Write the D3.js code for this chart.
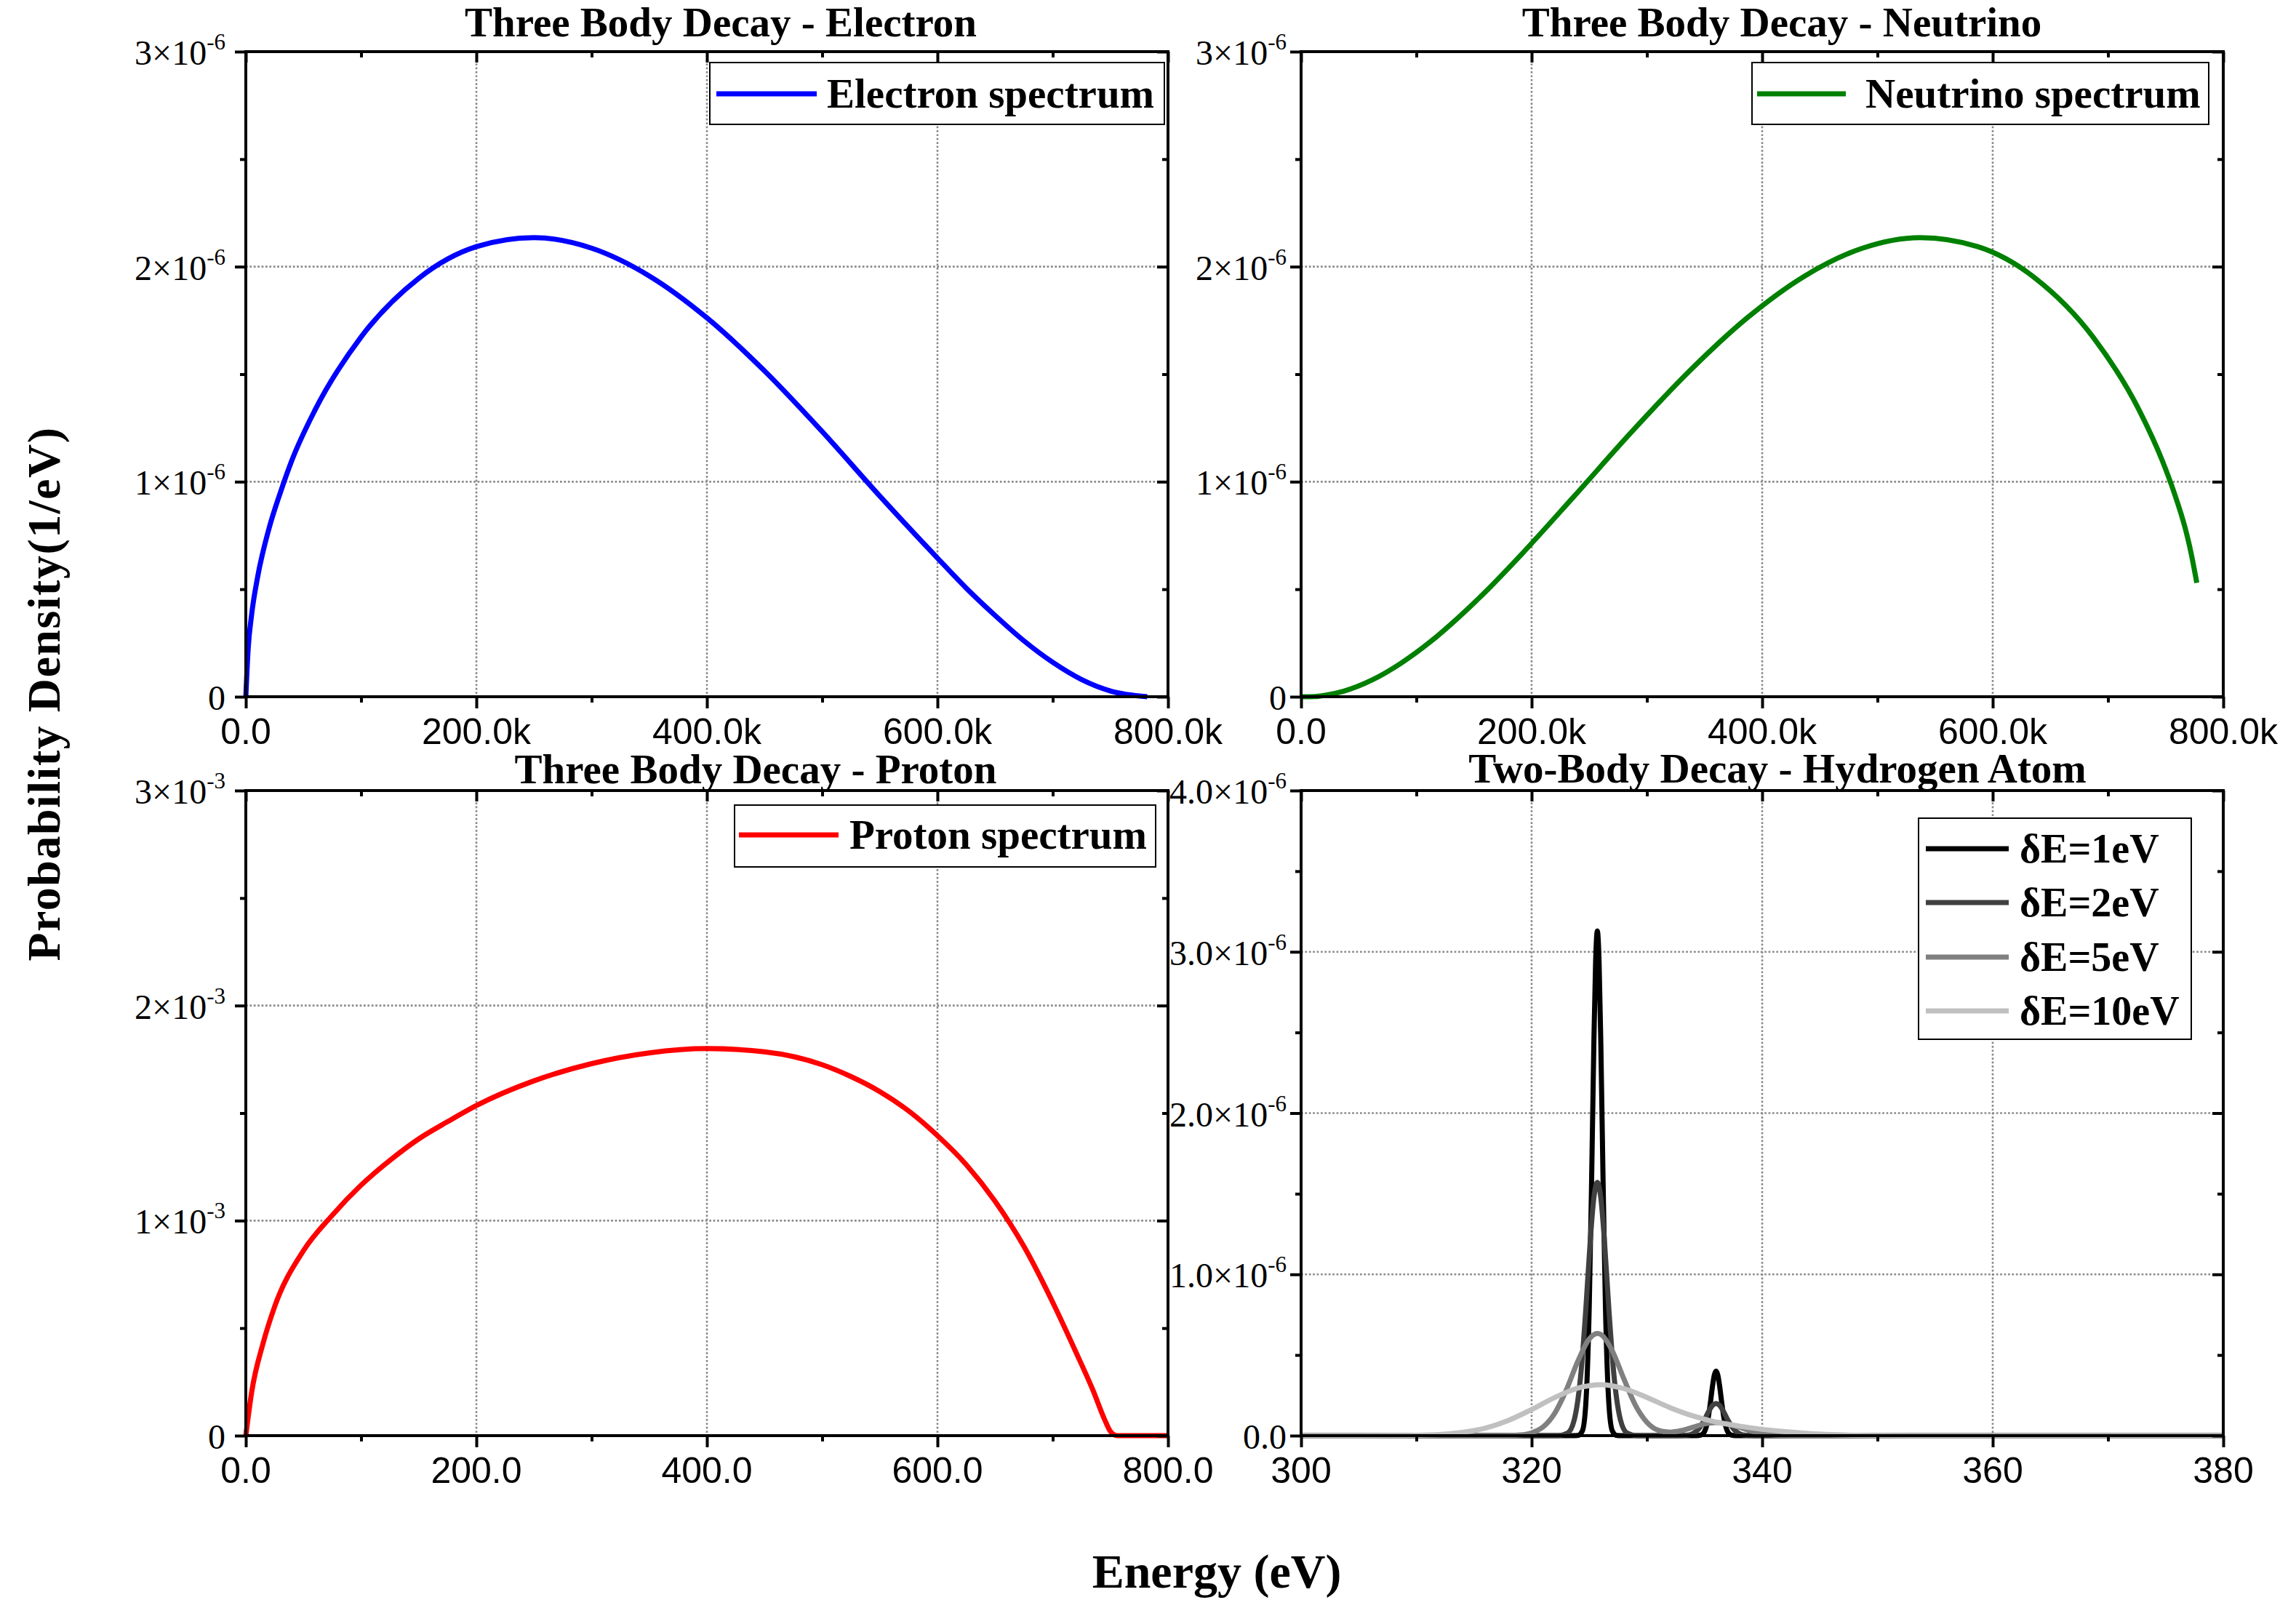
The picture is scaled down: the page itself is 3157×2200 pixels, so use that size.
<!DOCTYPE html>
<html>
<head>
<meta charset="utf-8">
<script src="https://cdn.jsdelivr.net/npm/d3@7"></script>
<style>
  body { margin: 0; background: #fff; }
  svg { display: block; }
  .serif { font-family: "Liberation Serif", "Times New Roman", serif; }
  .sans  { font-family: "Liberation Sans", Arial, sans-serif; }
</style>
</head>
<body>
<svg id="chart" width="3157" height="2200"></svg>
<script>
// ---- data ----
const electronE = [0, 2e3, 5e3, 10e3, 20e3, 30e3, 40e3, 60e3, 100e3, 150e3, 200e3, 250e3, 300e3, 350e3, 400e3, 450e3,
  500e3, 550e3, 600e3, 625e3, 650e3, 675e3, 700e3, 725e3, 750e3, 782e3]
const electronP = [0, 0.22e-6, 0.38e-6, 0.55e-6, 0.78e-6, 0.95e-6, 1.10e-6, 1.333e-6, 1.673e-6, 1.946e-6, 2.093e-6,
  2.135e-6, 2.086e-6, 1.957e-6, 1.762e-6, 1.515e-6, 1.233e-6, 0.933e-6, 0.645e-6, 0.505e-6, 0.378e-6, 0.26e-6,
  0.16e-6, 0.08e-6, 0.027e-6, 0]

const neutrinoE = [0, 12e3, 20e3, 37e3, 62e3, 87e3, 112e3, 137e3, 162e3, 187e3, 237e3, 287e3, 337e3, 387e3, 437e3,
  487e3, 537e3, 587e3, 637e3, 687e3, 727e3, 747e3, 757e3, 767e3, 772e3, 777e3]
const neutrinoP = [0, 0.001e-6, 0.006e-6, 0.026e-6, 0.079e-6, 0.157e-6, 0.255e-6, 0.371e-6, 0.499e-6, 0.638e-6,
  0.933e-6, 1.233e-6, 1.515e-6, 1.762e-6, 1.957e-6, 2.086e-6, 2.135e-6, 2.093e-6, 1.946e-6, 1.673e-6, 1.333e-6,
  1.099e-6, 0.955e-6, 0.783e-6, 0.67e-6, 0.53e-6]

const protonE = [0, 5, 15, 25, 50, 75, 100, 125, 150, 175, 200, 250, 300, 350, 400, 450, 500, 525, 550, 575, 600,
  625, 650, 675, 700, 720, 735, 745, 750, 756, 800]
const protonP = [0, 0.20e-3, 0.43e-3, 0.60e-3, 0.86e-3, 1.025e-3, 1.165e-3, 1.28e-3, 1.38e-3, 1.46e-3, 1.535e-3,
  1.65e-3, 1.73e-3, 1.78e-3, 1.80e-3, 1.785e-3, 1.725e-3, 1.67e-3, 1.60e-3, 1.51e-3, 1.395e-3, 1.26e-3, 1.09e-3,
  0.88e-3, 0.62e-3, 0.39e-3, 0.21e-3, 0.075e-3, 0.02e-3, 0, 0]

const h1E = [300, 320, 323.5, 324.0, 324.4, 324.7, 325.0, 325.2, 325.4, 325.55, 325.7, 325.85, 326.0, 326.2, 326.4, 326.7,
  327.0, 327.4, 327.9, 330, 334.3, 334.7, 335.0, 335.3, 335.5, 335.7, 335.85, 336.0, 336.15, 336.3, 336.5, 336.7, 337.0,
  337.3, 337.7, 340, 380]
const h1P = [0, 0, 0, 0.001e-6, 0.029e-6, 0.197e-6, 0.81e-6, 1.57e-6, 2.44e-6, 2.94e-6, 3.13e-6, 2.94e-6, 2.44e-6, 1.57e-6,
  0.81e-6, 0.197e-6, 0.029e-6, 0.001e-6, 0, 0, 0, 0.004e-6, 0.025e-6, 0.103e-6, 0.20e-6, 0.312e-6, 0.376e-6, 0.40e-6,
  0.376e-6, 0.312e-6, 0.20e-6, 0.103e-6, 0.025e-6, 0.004e-6, 0, 0, 0]

const h2E = [300, 320, 321.4, 322.3, 323.1, 323.7, 324.3, 324.7, 325.1, 325.4, 325.7, 326.0, 326.3, 326.7, 327.1, 327.7,
  328.3, 329.1, 330, 332.6, 333.4, 334.0, 334.6, 335.0, 335.4, 335.7, 336.0, 336.3, 336.6, 337.0, 337.4, 338.0, 338.6,
  339.4, 342, 380]
const h2P = [0, 0, 0, 0.0005e-6, 0.015e-6, 0.099e-6, 0.405e-6, 0.785e-6, 1.225e-6, 1.476e-6, 1.57e-6, 1.476e-6, 1.225e-6,
  0.785e-6, 0.405e-6, 0.099e-6, 0.015e-6, 0.0005e-6, 0, 0, 0.002e-6, 0.013e-6, 0.052e-6, 0.10e-6, 0.156e-6, 0.188e-6,
  0.20e-6, 0.188e-6, 0.156e-6, 0.10e-6, 0.052e-6, 0.013e-6, 0.002e-6, 0, 0, 0]

const h5E = [300, 314, 316, 317, 318, 319, 320, 321, 322, 323, 324, 325, 325.7, 326, 327, 328, 329, 330, 331, 332, 333,
  334, 335, 336, 337, 338, 339, 340, 341, 342, 343, 345, 380]
const h5P = [0, 0, 0.00002e-6, 0.00014e-6, 0.0009e-6, 0.0043e-6, 0.0172e-6, 0.0545e-6, 0.1385e-6, 0.282e-6, 0.460e-6,
  0.600e-6, 0.634e-6, 0.628e-6, 0.525e-6, 0.352e-6, 0.189e-6, 0.083e-6, 0.033e-6, 0.0214e-6, 0.0315e-6, 0.052e-6,
  0.0725e-6, 0.081e-6, 0.0725e-6, 0.052e-6, 0.030e-6, 0.0137e-6, 0.005e-6, 0.0015e-6, 0.0003e-6, 0, 0]

const h10E = [300, 305, 308, 310, 312, 314, 316, 318, 320, 322, 324, 326, 328, 330, 332, 334, 336, 338, 340, 342, 344,
  346, 348, 350, 355, 380]
const h10P = [0, 0.0001e-6, 0.0006e-6, 0.0022e-6, 0.0072e-6, 0.020e-6, 0.047e-6, 0.095e-6, 0.162e-6, 0.236e-6, 0.295e-6,
  0.316e-6, 0.292e-6, 0.237e-6, 0.174e-6, 0.122e-6, 0.084e-6, 0.059e-6, 0.039e-6, 0.025e-6, 0.0135e-6, 0.0065e-6,
  0.0026e-6, 0.001e-6, 0, 0]

const hydroNames  = ["δE=1eV", "δE=2eV", "δE=5eV", "δE=10eV"]
const hydroColors = ["#000000", "#404040", "#808080", "#c0c0c0"]

// ---- axis ticks and labels ----
const keVTicks   = [0, 200e3, 400e3, 600e3, 800e3]
const keVMinor   = [100e3, 300e3, 500e3, 700e3]
const keVLabels  = ["0.0", "200.0k", "400.0k", "600.0k", "800.0k"]
const protonTicks  = [0, 200, 400, 600, 800]
const protonMinor  = [100, 300, 500, 700]
const protonLabels = ["0.0", "200.0", "400.0", "600.0", "800.0"]
const hydroTicks  = [300, 320, 340, 360, 380]
const hydroMinor  = [310, 330, 350, 370]
const hydroLabels = ["300", "320", "340", "360", "380"]

const microTicks  = [0, 1e-6, 2e-6, 3e-6]
const microMinor  = [0.5e-6, 1.5e-6, 2.5e-6]
const microLabels = ["0", "1×10", "2×10", "3×10"]
const microExp    = ["", "-6", "-6", "-6"]
const milliTicks  = [0, 1e-3, 2e-3, 3e-3]
const milliMinor  = [0.5e-3, 1.5e-3, 2.5e-3]
const milliLabels = ["0", "1×10", "2×10", "3×10"]
const milliExp    = ["", "-3", "-3", "-3"]
const hydroYTicks  = [0, 1e-6, 2e-6, 3e-6, 4e-6]
const hydroYMinor  = [0.5e-6, 1.5e-6, 2.5e-6, 3.5e-6]
const hydroYLabels = ["0.0", "1.0×10", "2.0×10", "3.0×10", "4.0×10"]
const hydroYExp    = ["", "-6", "-6", "-6", "-6"]

const svg = d3.select("#chart")

function styleTicks(sel) {
  sel.select(".domain").remove()
  sel.selectAll("text").remove()
  sel.selectAll("line").attr("stroke", "#000").attr("stroke-width", 4)
}

function drawPanel(p) {
  const x = d3.scaleLinear().domain(p.xDomain).range([p.left, p.right])
  const y = d3.scaleLinear().domain(p.yDomain).range([p.bottom, p.top])
  const g = svg.append("g")

  // dotted grid at inner major ticks
  const grid = g.append("g").attr("stroke", "#8a8a8a").attr("stroke-width", 2.6).attr("stroke-dasharray", "2.7 2.7")
  grid.selectAll(".gx").data(p.xTicks.slice(1, -1)).join("line")
    .attr("x1", d => x(d)).attr("x2", d => x(d)).attr("y1", p.top).attr("y2", p.bottom)
  grid.selectAll(".gy").data(p.yTicks.slice(1, -1)).join("line")
    .attr("y1", d => y(d)).attr("y2", d => y(d)).attr("x1", p.left).attr("x2", p.right)

  // curves
  const line = d3.line().x(d => x(d[0])).y(d => y(d[1])).curve(d3.curveMonotoneX)
  g.append("g").selectAll("path").data(p.series).join("path")
    .attr("d", s => line(d3.zip(s.E, s.P)))
    .attr("fill", "none").attr("stroke", s => s.color)
    .attr("stroke-width", p.lineWidth).attr("stroke-linejoin", "round")

  // ticks: bottom/left outward, top/right inward
  g.append("g").attr("transform", `translate(0,${p.bottom})`)
    .call(d3.axisBottom(x).tickValues(p.xTicks).tickSize(16)).call(styleTicks)
  g.append("g").attr("transform", `translate(0,${p.bottom})`)
    .call(d3.axisBottom(x).tickValues(p.xMinor).tickSize(8)).call(styleTicks)
  g.append("g").attr("transform", `translate(0,${p.top})`)
    .call(d3.axisTop(x).tickValues(p.xTicks).tickSize(-15)).call(styleTicks)
  g.append("g").attr("transform", `translate(0,${p.top})`)
    .call(d3.axisTop(x).tickValues(p.xMinor).tickSize(-8)).call(styleTicks)
  g.append("g").attr("transform", `translate(${p.left},0)`)
    .call(d3.axisLeft(y).tickValues(p.yTicks).tickSize(15)).call(styleTicks)
  g.append("g").attr("transform", `translate(${p.left},0)`)
    .call(d3.axisLeft(y).tickValues(p.yMinor).tickSize(8)).call(styleTicks)
  g.append("g").attr("transform", `translate(${p.right},0)`)
    .call(d3.axisRight(y).tickValues(p.yTicks).tickSize(-15)).call(styleTicks)
  g.append("g").attr("transform", `translate(${p.right},0)`)
    .call(d3.axisRight(y).tickValues(p.yMinor).tickSize(-8)).call(styleTicks)

  // frame
  g.append("rect")
    .attr("x", p.left).attr("y", p.top)
    .attr("width", p.right - p.left).attr("height", p.bottom - p.top)
    .attr("fill", "none").attr("stroke", "#000").attr("stroke-width", 4)

  // x tick labels
  g.append("g").selectAll("text").data(p.xTicks).join("text")
    .attr("class", "sans").attr("font-size", 50).attr("text-anchor", "middle")
    .attr("x", d => x(d)).attr("y", p.bottom + 65)
    .text((d, i) => p.xLabels[i])

  // y tick labels with superscript exponent
  const yl = g.append("g").selectAll("text")
    .data(p.yTicks.map((v, i) => ({ v, m: p.yLabels[i], e: p.yExp[i] })))
    .join("text")
    .attr("class", "serif").attr("font-size", 48).attr("text-anchor", "end")
    .attr("x", p.left - p.labelGap).attr("y", d => y(d.v) + 18)
  yl.append("tspan").text(d => d.m)
  yl.filter(d => d.e).append("tspan").attr("font-size", 31).attr("dy", -21).text(d => d.e)

  // title
  g.append("text").attr("class", "serif")
    .attr("font-size", 57).attr("font-weight", "bold").attr("text-anchor", "middle")
    .attr("x", p.titleX).attr("y", p.titleY).text(p.title)

  // legend
  const L = p.legend
  const lg = g.append("g")
  lg.append("rect").attr("x", L.x).attr("y", L.y).attr("width", L.w).attr("height", L.h)
    .attr("fill", "#fff").attr("stroke", "#000").attr("stroke-width", 2)
  const rows = lg.selectAll("g").data(p.series).join("g")
    .attr("transform", (s, i) => `translate(0,${L.rows[i]})`)
  rows.append("line").attr("x1", L.lineX1).attr("x2", L.lineX2)
    .attr("stroke", s => s.color).attr("stroke-width", 7)
  rows.append("text").attr("class", "serif")
    .attr("font-size", L.fontSize).attr("font-weight", "bold")
    .attr("x", L.textX).attr("y", 19).text(s => s.name)
}

// top-right
drawPanel({
  left: 1789, right: 3057, top: 71, bottom: 958,
  xDomain: [0, 800e3], yDomain: [0, 3e-6],
  xTicks: keVTicks, xMinor: keVMinor, xLabels: keVLabels,
  yTicks: microTicks, yMinor: microMinor, yLabels: microLabels, yExp: microExp, labelGap: 20,
  title: "Three Body Decay - Neutrino", titleX: 2450, titleY: 50, lineWidth: 7,
  series: [{ name: "Neutrino spectrum", color: "#008000", E: neutrinoE, P: neutrinoP }],
  legend: { x: 2409, y: 86, w: 628, h: 85, rows: [129], lineX1: 2416, lineX2: 2538, textX: 2565, fontSize: 57 }
})

// bottom-right
drawPanel({
  left: 1789, right: 3057, top: 1087, bottom: 1974,
  xDomain: [300, 380], yDomain: [0, 4e-6],
  xTicks: hydroTicks, xMinor: hydroMinor, xLabels: hydroLabels,
  yTicks: hydroYTicks, yMinor: hydroYMinor, yLabels: hydroYLabels, yExp: hydroYExp, labelGap: 20,
  title: "Two-Body Decay - Hydrogen Atom", titleX: 2444, titleY: 1076, lineWidth: 7,
  series: [h1E, h2E, h5E, h10E].map((E, i) => ({
    name: hydroNames[i], color: hydroColors[i], E, P: [h1P, h2P, h5P, h10P][i]
  })),
  legend: { x: 2638, y: 1125, w: 375, h: 304, rows: [1167, 1241, 1316, 1390],
    lineX1: 2648, lineX2: 2762, textX: 2777, fontSize: 56 }
})

// top-left
drawPanel({
  left: 338, right: 1606, top: 71, bottom: 958,
  xDomain: [0, 800e3], yDomain: [0, 3e-6],
  xTicks: keVTicks, xMinor: keVMinor, xLabels: keVLabels,
  yTicks: microTicks, yMinor: microMinor, yLabels: microLabels, yExp: microExp, labelGap: 28,
  title: "Three Body Decay - Electron", titleX: 991, titleY: 50, lineWidth: 7,
  series: [{ name: "Electron spectrum", color: "#0000ff", E: electronE, P: electronP }],
  legend: { x: 976, y: 86, w: 625, h: 85, rows: [129], lineX1: 985, lineX2: 1123, textX: 1137, fontSize: 57 }
})

// bottom-left (drawn last: its right frame overlaps the neighbour's labels)
drawPanel({
  left: 338, right: 1606, top: 1087, bottom: 1974,
  xDomain: [0, 800], yDomain: [0, 3e-3],
  xTicks: protonTicks, xMinor: protonMinor, xLabels: protonLabels,
  yTicks: milliTicks, yMinor: milliMinor, yLabels: milliLabels, yExp: milliExp, labelGap: 28,
  title: "Three Body Decay - Proton", titleX: 1039, titleY: 1077, lineWidth: 7,
  series: [{ name: "Proton spectrum", color: "#ff0000", E: protonE, P: protonP }],
  legend: { x: 1010, y: 1107, w: 579, h: 85, rows: [1148], lineX1: 1016, lineX2: 1153, textX: 1168, fontSize: 57 }
})

// shared axis titles
svg.append("text").attr("class", "serif")
  .attr("font-size", 64).attr("font-weight", "bold").attr("letter-spacing", 1.5)
  .attr("text-anchor", "middle")
  .attr("transform", "translate(82,954) rotate(-90)")
  .text("Probability Density(1/eV)")

svg.append("text").attr("class", "serif")
  .attr("font-size", 66).attr("font-weight", "bold").attr("text-anchor", "middle")
  .attr("x", 1673).attr("y", 2183)
  .text("Energy (eV)")
</script>
</body>
</html>
